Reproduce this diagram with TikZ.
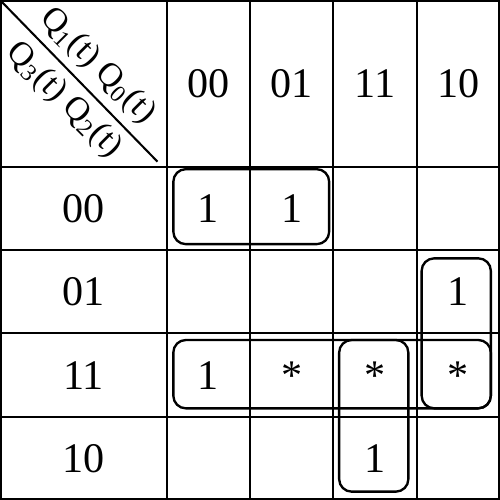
\documentclass[tikz,border=0pt]{standalone}
\usepackage{fontspec}
\setmainfont{Liberation Serif}
\begin{document}
\begin{tikzpicture}[x=1cm,y=1cm,line width=0.7pt,
		every node/.style={font=\fontsize{14.4}{17}\selectfont},
		val/.style={text height=0.34cm,text depth=0pt,inner sep=0pt},
		vars/.style={rotate=-45,inner sep=0pt,font=\fontsize{11.6}{14}\selectfont},
		group/.style={rounded corners=0.15cm,line width=0.8pt}]
		\useasboundingbox (0,0) rectangle (6,6);
		% grid
		\draw (0.015,0.015) rectangle (5.985,5.985);
		\foreach \x in {2,3,4,5} \draw (\x,0) -- (\x,6);
		\foreach \y in {1,2,3,4} \draw (0,\y) -- (6,\y);
		% diagonal
		\coordinate (corner) at (0,6);
		\coordinate (diagend) at (1.89,4.06);
		\draw (corner) -- (diagend);
		\node [vars] (colvars) at (1.17,5.21) {Q\textsubscript{1}(t) Q\textsubscript{0}(t)};
		\node [vars] (rowvars) at (0.77,4.80) {Q\textsubscript{3}(t) Q\textsubscript{2}(t)};
		% column heads
		\node [val] (h00) at (2.5,5) {00};
		\node [val] (h01) at (3.5,5) {01};
		\node [val] (h11) at (4.5,5) {11};
		\node [val] (h10) at (5.5,5) {10};
		% row heads
		\node [val] (r00) at (1,3.5) {00};
		\node [val] (r01) at (1,2.5) {01};
		\node [val] (r11) at (1,1.5) {11};
		\node [val] (r10) at (1,0.5) {10};
		% entries
		\node [val] (m0000) at (2.5,3.5) {1};
		\node [val] (m0001) at (3.5,3.5) {1};
		\node [val] (m0110) at (5.5,2.5) {1};
		\node [val] (m1100) at (2.5,1.5) {1};
		\node [val] (m1101) at (3.5,1.5) {*};
		\node [val] (m1111) at (4.5,1.5) {*};
		\node [val] (m1110) at (5.5,1.5) {*};
		\node [val] (m1011) at (4.5,0.5) {1};
		% groups
		\draw [group] (2.08,3.07) rectangle (3.95,3.97);
		\draw [group] (5.06,1.10) rectangle (5.89,2.90);
		\draw [group] (2.08,1.10) rectangle (5.89,1.92);
		\draw [group] (4.07,0.10) rectangle (4.90,1.92);
	\end{tikzpicture}
\end{document}
